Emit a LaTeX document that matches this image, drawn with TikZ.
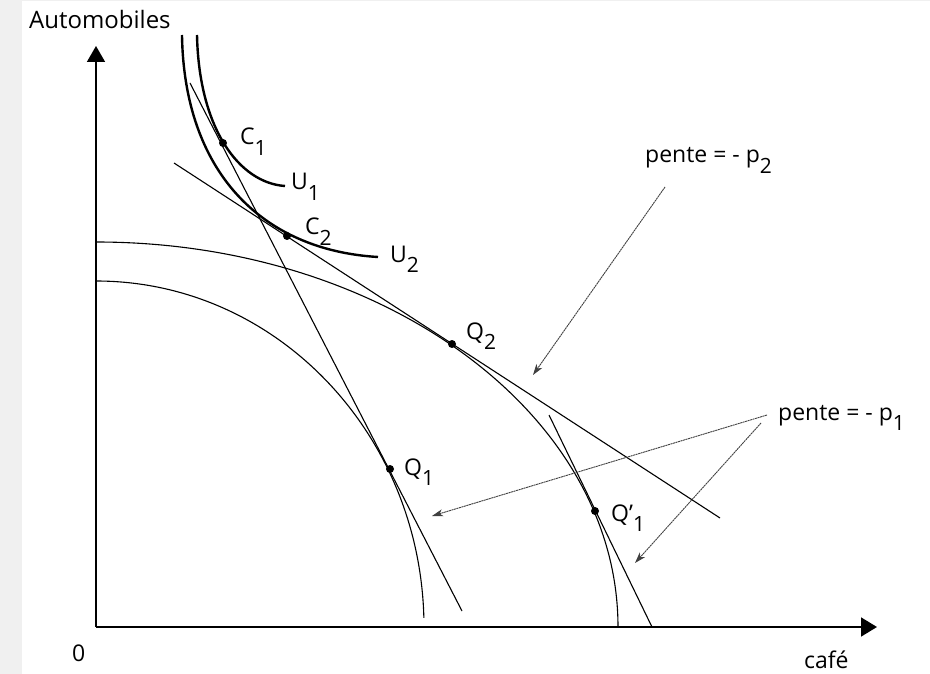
\documentclass[tikz,border=0pt]{standalone}
\usepackage{fontspec}
\setmainfont{Open Sans}
\usetikzlibrary{arrows.meta}
\newcommand{\lowsub}[1]{\raisebox{-10.5pt}{\fontsize{21}{21}\selectfont #1}}
\tikzset{
  lbl/.style={anchor=base west, inner sep=0pt, font=\fontsize{23}{26}\selectfont},
  dotpt/.style={circle, fill=black, inner sep=0pt, minimum size=8pt},
  axisline/.style={line width=1.7pt},
  indiff/.style={line width=2.4pt},
  thinline/.style={line width=1.1pt},
  pointer/.style={draw=black!75, line width=0.9pt, dash pattern=on 2pt off 0.6pt,
     -{Stealth[length=11pt,width=7pt,inset=3pt]}},
}
\begin{document}
\begin{tikzpicture}[x=1pt,y=1pt]
% background
\useasboundingbox (0,0) rectangle (930,-674);
\fill[white] (0,0) rectangle (930,-674);
\fill[black!6] (0,0) rectangle (22,-674);
\fill[black!6] (0,0) rectangle (930,-1.5);

% axes
\coordinate (O) at (96,-627);
\coordinate (Ytop) at (96,-46);
\coordinate (Xend) at (877,-627);
\draw[axisline,-{Triangle[length=16pt,width=18pt]}] (O) -- (Ytop);
\draw[axisline,-{Triangle[length=16pt,width=19pt]}] (O) -- (Xend);
\node[lbl, font=\fontsize{24}{26}\selectfont] (ylab) at (29,-29) {Automobiles};
\node[lbl] (zero) at (72,-661) {0};
\node[lbl] (xlab) at (804,-668) {café};

% production possibility frontiers
\draw[thinline] (96,-281) arc[start angle=90, end angle=1.5, x radius=328pt, y radius=346pt];
\draw[thinline] (96,-242) arc[start angle=90, end angle=0, x radius=522pt, y radius=385pt];

% indifference curves
\draw[indiff] (197,-35) .. controls (199,-130) and (240,-183) .. (285,-186);
\draw[indiff] (182,-35) .. controls (184,-170) and (260,-250) .. (378,-257);

% price lines
\coordinate (La) at (190,-83);
\coordinate (Lb) at (462,-611);
\draw[thinline] (La) -- (Lb);
\coordinate (Ma) at (174,-163);
\coordinate (Mb) at (720,-518);
\draw[thinline] (Ma) -- (Mb);
\coordinate (Na) at (549,-415);
\coordinate (Nb) at (652,-627);
\draw[thinline] (Na) -- (Nb);

% points
\node[dotpt] (C1) at (223,-143) {};
\node[dotpt] (C2) at (287,-236) {};
\node[dotpt] (Q2) at (452,-344) {};
\node[dotpt] (Q1) at (390,-469) {};
\node[dotpt] (Q1p) at (595,-511) {};

% labels
\node[lbl] (lC1) at (240,-145) {C\lowsub{1}};
\node[lbl] (lU1) at (291,-190) {U\lowsub{1}};
\node[lbl] (lC2) at (305,-235) {C\lowsub{2}};
\node[lbl] (lU2) at (390,-262) {U\lowsub{2}};
\node[lbl] (lQ2) at (466,-339) {Q\lowsub{2}};
\node[lbl] (lQ1) at (404,-475) {Q\lowsub{1}};
\node[lbl] (lQ1p) at (611,-521) {Q’\lowsub{1}};
\node[lbl] (p2) at (645,-163) {pente = - p\lowsub{2}};
\node[lbl] (p1) at (778,-420) {pente = - p\lowsub{1}};

% pointer arrows
\coordinate (s2) at (665,-187);
\coordinate (t2) at (533,-375);
\coordinate (s1a) at (767,-415);
\coordinate (t1a) at (432,-516);
\coordinate (s1b) at (761,-423);
\coordinate (t1b) at (635,-563);
\draw[pointer] (s2) -- (t2);
\draw[pointer] (s1a) -- (t1a);
\draw[pointer] (s1b) -- (t1b);
\end{tikzpicture}
\end{document}
